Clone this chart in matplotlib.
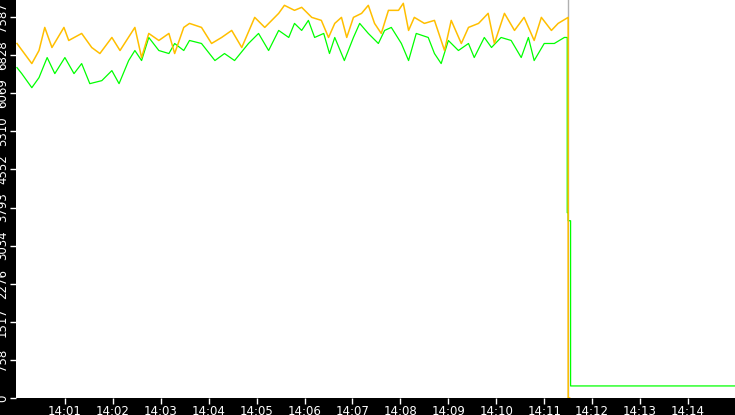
import matplotlib
matplotlib.use("Agg")
import matplotlib.pyplot as plt

# minutes after 14:00
t_orange = [0, .31, .46, .58, .73, .98, 1.08, 1.35, 1.56, 1.73, 1.98, 2.15, 2.46, 2.60, 2.75,
            2.96, 3.17, 3.29, 3.48, 3.60, 3.85, 4.06, 4.27, 4.48, 4.69, 4.96, 5.17, 5.46,
            5.58, 5.79, 5.94, 6.15, 6.35, 6.50, 6.63, 6.77, 6.88, 7.02, 7.19, 7.33, 7.46,
            7.60, 7.75, 7.96, 8.06, 8.17, 8.29, 8.50, 8.71, 8.92, 9.06, 9.27, 9.42, 9.63,
            9.83, 9.96, 10.17, 10.38, 10.58, 10.79, 10.94, 11.15, 11.29, 11.5, 11.5, 11.53]
v_orange = [7060, 6660, 6920, 7380, 6980, 7380, 7120, 7260, 6980, 6860, 7180, 6920, 7380, 6780,
            7260, 7120, 7260, 6860, 7380, 7460, 7380, 7060, 7180, 7320, 6980, 7580, 7380, 7660,
            7820, 7720, 7780, 7580, 7520, 7180, 7460, 7580, 7180, 7580, 7660, 7820, 7460,
            7260, 7720, 7720, 7860, 7320, 7580, 7460, 7520, 6920, 7520, 7060, 7380, 7460,
            7660, 7060, 7660, 7320, 7580, 7120, 7580, 7320, 7460, 7580, 0, 0]

t_green = [0, .10, .31, .46, .63, .79, 1.00, 1.19, 1.35, 1.52, 1.77, 1.98, 2.13, 2.33, 2.46,
           2.60, 2.75, 2.96, 3.17, 3.29, 3.48, 3.60, 3.85, 4.13, 4.33, 4.54, 4.83, 5.04,
           5.25, 5.46, 5.67, 5.79, 5.94, 6.08, 6.21, 6.40, 6.52, 6.63, 6.83, 7.02, 7.15,
           7.33, 7.54, 7.67, 7.81, 8.02, 8.17, 8.33, 8.58, 8.71, 8.85, 9.00, 9.21, 9.42,
           9.54, 9.75, 9.90, 10.10, 10.31, 10.52, 10.67, 10.79, 11.00, 11.21, 11.42, 11.48,
           11.48, 11.5, 11.5, 11.55, 11.55, 15.0]
v_green = [6580, 6460, 6180, 6380, 6780, 6460, 6780, 6460, 6660, 6260, 6320, 6520, 6260, 6720,
           6920, 6720, 7180, 6920, 6860, 7060, 6920, 7120, 7060, 6720, 6860, 6720, 7060,
           7260, 6920, 7320, 7180, 7460, 7320, 7520, 7180, 7260, 6860, 7180, 6720, 7180,
           7460, 7260, 7060, 7320, 7380, 7060, 6720, 7260, 7180, 6860, 6660, 7120, 6920,
           7060, 6780, 7180, 6980, 7180, 7120, 6780, 7180, 6720, 7060, 7060, 7180, 7180,
           3690, 3690, 3530, 3530, 240, 240]

y_ticks = [0, 758, 1517, 2276, 3034, 3793, 4552, 5310, 6069, 6828, 7587]
x_ticks = list(range(1, 15))
x_labels = ["14:%02d" % m for m in x_ticks]

fig = plt.figure(figsize=(7.35, 4.15), dpi=100, facecolor="black")
ax = fig.add_axes([16 / 735, 17 / 415, 719 / 735, 398 / 415])
ax.set_facecolor("white")

ax.axvline(11.49, color="#b0b0b0", lw=1, zorder=1)
ax.plot(t_green, v_green, color="#00ff00", lw=0.9, zorder=2)
ax.plot(t_orange, v_orange, color="#ffbf00", lw=1.1, zorder=3)

ax.set_xlim(-0.02, 14.98)
ax.set_ylim(0, 7926)
ax.set_yticks(y_ticks)
ax.set_yticklabels([str(v) for v in y_ticks], rotation=90, va="center")
ax.set_xticks(x_ticks)
ax.set_xticklabels(x_labels)
ax.tick_params(colors="white", labelsize=8.5, length=4, width=1, pad=1)
for s in ax.spines.values():
    s.set_visible(False)

fig.savefig("out.png", dpi=100, facecolor="black")
